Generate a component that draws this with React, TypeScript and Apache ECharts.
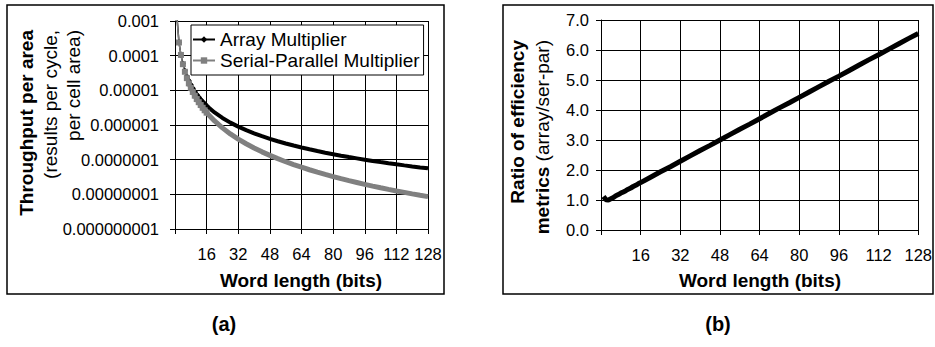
import React, { useEffect, useRef } from 'react';
import * as echarts from 'echarts';

const FONT = '"Liberation Sans", Arial, sans-serif';

// Word length (bits) at which each value was read
const wordLengths = [1, 2, 3, 4, 5, 6, 7, 8, 9, 10, 11, 12, 13, 14, 15, 16, 20, 24, 28, 32, 36, 40, 44, 48, 52, 56, 60, 64, 68, 72, 76, 80, 84, 88, 92, 96, 100, 104, 108, 112, 116, 120, 124, 128];

// Throughput per area (results per cycle, per cell area)
const arrayMultiplier = [1.3e-3, 2.45e-4, 1.05e-4, 5.9e-5, 3.7e-5, 2.56e-5, 1.88e-5, 1.44e-5, 1.14e-5, 9.2e-6, 7.6e-6, 6.39e-6, 5.44e-6, 4.69e-6, 4.09e-6, 3.59e-6, 2.3e-6, 1.6e-6, 1.17e-6, 8.98e-7, 7.1e-7, 5.75e-7, 4.75e-7, 3.99e-7, 3.4e-7, 2.93e-7, 2.56e-7, 2.25e-7, 1.99e-7, 1.77e-7, 1.59e-7, 1.44e-7, 1.3e-7, 1.19e-7, 1.09e-7, 9.98e-8, 9.2e-8, 8.51e-8, 7.89e-8, 7.33e-8, 6.84e-8, 6.39e-8, 5.98e-8, 5.62e-8];
const serialParallel = [1.16e-3, 2.4e-4, 1.05e-4, 5.67e-5, 3.43e-5, 2.25e-5, 1.59e-5, 1.18e-5, 8.98e-6, 7.0e-6, 5.6e-6, 4.55e-6, 3.76e-6, 3.14e-6, 2.66e-6, 2.27e-6, 1.31e-6, 8.26e-7, 5.54e-7, 3.92e-7, 2.88e-7, 2.17e-7, 1.68e-7, 1.33e-7, 1.07e-7, 8.73e-8, 7.24e-8, 6.06e-8, 5.12e-8, 4.35e-8, 3.75e-8, 3.26e-8, 2.83e-8, 2.49e-8, 2.2e-8, 1.94e-8, 1.73e-8, 1.55e-8, 1.39e-8, 1.25e-8, 1.14e-8, 1.03e-8, 9.38e-9, 8.58e-9];

// Ratio of efficiency metrics (array / ser-par)
const efficiencyRatio = [1.12, 1.01, 1.0, 1.04, 1.08, 1.14, 1.18, 1.23, 1.27, 1.31, 1.36, 1.4, 1.45, 1.49, 1.54, 1.58, 1.76, 1.94, 2.11, 2.29, 2.47, 2.65, 2.82, 3.0, 3.18, 3.36, 3.53, 3.71, 3.89, 4.07, 4.24, 4.42, 4.6, 4.78, 4.96, 5.13, 5.31, 5.49, 5.67, 5.84, 6.02, 6.2, 6.38, 6.55];

const xTickLabels = ['', '16', '32', '48', '64', '80', '96', '112', '128'];
const logTickLabels = ['0.001', '0.0001', '0.00001', '0.000001', '0.0000001', '0.00000001', '0.000000001'];
const ratioTickLabels = ['0.0', '1.0', '2.0', '3.0', '4.0', '5.0', '6.0', '7.0'];
const seriesNames = ['Array Multiplier', 'Serial-Parallel Multiplier'];
const xTitle = 'Word length (bits)';
const leftYTitle = ['Throughput per area', '(results per cycle,', 'per cell area)'];
const rightYTitle = ['Ratio of efficiency', 'metrics', '(array/ser-par)'];
const panelLabels = ['(a)', '(b)'];

const pairs = (ys: number[], from = 0) =>
  wordLengths.map((x, i) => [x, ys[i]]).slice(from);

function textEl(text: string, x: number, y: number, opts: any = {}) {
  const align = opts.align || 'center';
  return {
    type: 'text',
    x,
    y,
    rotation: opts.rotation || 0,
    silent: true,
    style: {
      text,
      fill: '#000',
      fontSize: opts.fontSize || 19,
      fontWeight: opts.bold ? 'bold' : 'normal',
      fontFamily: FONT,
      align,
      textAlign: align,
      verticalAlign: 'middle',
      textVerticalAlign: 'middle',
      rich: opts.rich,
    },
  };
}

export default function App() {
  const ref = useRef<HTMLDivElement>(null);

  useEffect(() => {
    if (!ref.current) return;
    const chart = echarts.init(ref.current, undefined, { renderer: 'svg' });

    const axisLine = { show: true, onZero: false, lineStyle: { color: '#000', width: 1 } };
    const axisTick = { show: true, inside: false, length: 5, lineStyle: { color: '#000', width: 1 } };
    const splitLine = { show: true, lineStyle: { color: '#000', width: 1 } };
    const labelBase = { color: '#000', fontSize: 16.5, fontFamily: FONT };

    const xAxisBase = (gridIndex: number) => ({
      gridIndex,
      type: 'value',
      min: 0,
      max: 128,
      interval: 16,
      axisLine,
      axisTick,
      splitLine,
      axisLabel: {
        ...labelBase,
        margin: 16,
        formatter: (v: number) => xTickLabels[Math.round(v / 16)] ?? '',
      },
    });

    const sym16 = (size: number) => (v: number[]) => (v[0] <= 16 ? size : 0);

    const option: any = {
      animation: false,
      backgroundColor: '#fff',
      grid: [
        { left: 175, top: 21, width: 253, height: 208, containLabel: false },
        { left: 601, top: 20, width: 323, height: 210, containLabel: false },
      ],
      xAxis: [xAxisBase(0), xAxisBase(1)],
      yAxis: [
        {
          gridIndex: 0,
          type: 'log',
          logBase: 10,
          min: 1e-9,
          max: 1e-3,
          splitNumber: 6,
          axisLine,
          axisTick,
          splitLine,
          minorTick: { show: false },
          axisLabel: {
            ...labelBase,
            margin: 16,
            formatter: (v: number) => logTickLabels[Math.round(-Math.log10(v)) - 3] ?? '',
          },
        },
        {
          gridIndex: 1,
          type: 'value',
          min: 0,
          max: 7,
          interval: 1,
          axisLine,
          axisTick,
          splitLine,
          axisLabel: {
            ...labelBase,
            margin: 12,
            formatter: (v: number) => ratioTickLabels[Math.round(v)] ?? '',
          },
        },
      ],
      legend: {
        data: seriesNames,
        orient: 'vertical',
        left: 191,
        top: 25,
        padding: [5, 4, 5, 1],
        itemGap: 2,
        itemWidth: 22,
        itemHeight: 8,
        backgroundColor: '#fff',
        borderColor: '#000',
        borderWidth: 1,
        borderRadius: 0,
        selectedMode: false,
        textStyle: { fontSize: 19, fontFamily: FONT, color: '#000' },
      },
      series: [
        {
          name: seriesNames[0],
          type: 'line',
          xAxisIndex: 0,
          yAxisIndex: 0,
          data: pairs(arrayMultiplier),
          symbol: 'diamond',
          symbolSize: sym16(6),
          lineStyle: { color: '#000', width: 1.5 },
          itemStyle: { color: '#000' },
          clip: true,
          silent: true,
        },
        {
          name: 'arrayBand',
          type: 'line',
          xAxisIndex: 0,
          yAxisIndex: 0,
          data: pairs(arrayMultiplier, 5),
          symbol: 'none',
          lineStyle: { color: '#000', width: 4 },
          itemStyle: { color: '#000' },
          clip: true,
          silent: true,
        },
        {
          name: seriesNames[1],
          type: 'line',
          xAxisIndex: 0,
          yAxisIndex: 0,
          data: pairs(serialParallel),
          symbol: 'rect',
          symbolSize: sym16(6),
          lineStyle: { color: '#808080', width: 1.5 },
          itemStyle: { color: '#808080' },
          clip: true,
          silent: true,
        },
        {
          name: 'serialBand',
          type: 'line',
          xAxisIndex: 0,
          yAxisIndex: 0,
          data: pairs(serialParallel, 6),
          symbol: 'none',
          lineStyle: { color: '#808080', width: 5 },
          itemStyle: { color: '#808080' },
          clip: true,
          silent: true,
        },
        {
          name: 'ratio',
          type: 'line',
          xAxisIndex: 1,
          yAxisIndex: 1,
          data: pairs(efficiencyRatio),
          symbol: 'none',
          lineStyle: { color: '#000', width: 5 },
          itemStyle: { color: '#000' },
          clip: true,
          silent: true,
        },
      ],
      graphic: [
        { type: 'rect', silent: true, shape: { x: 7, y: 5, width: 437, height: 289 }, style: { fill: 'none', stroke: '#000', lineWidth: 1.5 } },
        { type: 'rect', silent: true, shape: { x: 503, y: 5, width: 430, height: 289 }, style: { fill: 'none', stroke: '#000', lineWidth: 1.5 } },
        textEl(xTitle, 301, 280, { bold: true }),
        textEl(xTitle, 760, 280, { bold: true }),
        textEl(leftYTitle[0], 26, 30, { bold: true, rotation: Math.PI / 2, align: 'right' }),
        textEl(leftYTitle[1], 50, 30, { rotation: Math.PI / 2, align: 'right' }),
        textEl(leftYTitle[2], 73, 30, { rotation: Math.PI / 2, align: 'right' }),
        textEl(rightYTitle[0], 517, 40, { bold: true, rotation: Math.PI / 2, align: 'right' }),
        textEl('{b|' + rightYTitle[1] + '} ' + rightYTitle[2], 542, 40, {
          rotation: Math.PI / 2,
          align: 'right',
          rich: { b: { fontWeight: 'bold', fontSize: 19, fontFamily: FONT, fill: '#000' } },
        }),
        textEl(panelLabels[0], 224, 324, { bold: true, fontSize: 20 }),
        textEl(panelLabels[1], 718, 324, { bold: true, fontSize: 20 }),
      ],
    };

    chart.setOption(option);
    return () => chart.dispose();
  }, []);

  return (
    <div
      ref={ref}
      style={{ position: 'absolute', left: 0, top: 0, width: 935, height: 347, background: '#fff' }}
    />
  );
}
